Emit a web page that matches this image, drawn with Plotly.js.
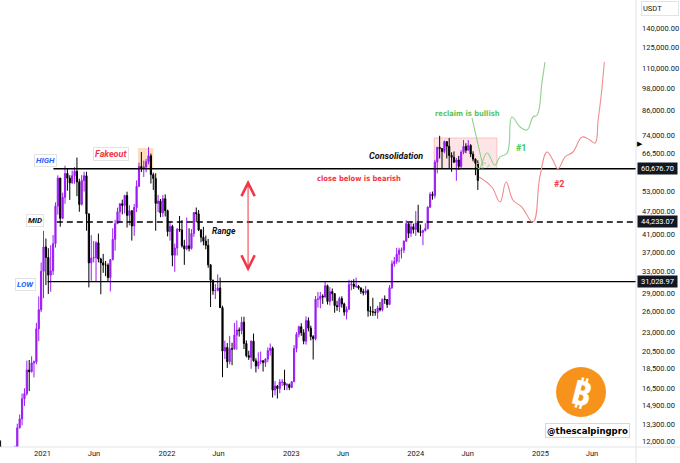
<!DOCTYPE html>
<html><head><meta charset="utf-8">
<script src="https://cdn.plot.ly/plotly-3.0.1.min.js"></script>
<style>html,body{margin:0;padding:0;background:#fff}#chart{width:680px;height:463px}</style>
</head><body><div id="chart"></div>
<script>
// ---------- DATA ----------
const firstWeek = '2020-08-31';   // weekly candles, one per Monday
const weekOpen = [11650,10280,10330,11080,10770,10670,11380,11500,13030,13740,15480,15960,18370,18170,19150,19270,23460,26280,
33000,38150,35830,32260,33100,38900,48580,57400,45200,51200,59000,57400,55800,58200,59800,56150,49100,56600,58200,46400,34700,35700,35800,39100,35500,34700,34240,34240,31800,35400,39900,43800,47000,49300,48800,51750,46000,47300,43200,48200,54700,61500,60900,61300,63300,65500,58600,57300,49400,50100,46700,50800,
47300,41800,43100,36300,37900,42400,42200,38400,37700,38400,37800,41300,46800,46400,42200,40400,39500,38500,34300,31300,29400,29450,29900,26600,20550,21000,19300,20850,20800,22600,23300,23200,24400,21500,20000,19800,21800,19400,18800,19300,19400,19200,19600,20600,20900,16300,16700,16450,17100,17100,16780,16840,
16550,17130,20870,22700,23750,22930,21800,24630,23550,22400,22100,27970,27970,28480,28330,30300,27600,29250,28900,26930,26750,28080,27200,25900,26340,30500,30590,30170,30230,29900,29280,29050,29400,26100,26000,25880,25840,26530,26250,27970,27920,27100,29950,34500,35000,36500,37380,37450,39460,43790,41370,42990,
42280,43930,41730,41600,42030,42580,48300,52140,51730,63100,68950,68400,67200,71300,69360,65660,64940,63100,63900,61540,66900,69300,67750,69650,66200,64250,62700];
const weekHigh = [12090,10800,11180,11090,10950,11490,11720,13350,14100,15970,16480,19420,19490,19920,19430,24300,28420,34780,
41950,40100,37850,38530,40950,49700,58350,57500,52640,61780,60630,58400,60080,61300,64850,57200,58450,59600,59600,46600,40900,39500,39500,41300,35750,36600,35100,34600,35400,42600,44800,48140,49400,50500,52000,52950,48850,47400,49230,56600,62900,67000,63700,64300,69000,66400,59300,59100,51950,50700,51900,52100,
47600,44500,43500,38900,42650,45850,44750,39800,45400,42600,42400,46900,48200,47500,42400,42980,40800,40000,34400,31400,30600,32400,31800,26900,21870,21550,22500,21600,24300,24650,23650,25200,25200,21900,20600,21900,22800,19700,20400,20500,19500,19700,21000,21500,21100,17200,16800,17400,17400,18400,17000,16950,
17200,21300,23000,23900,24250,23400,25250,25100,23900,22600,28500,29200,29200,28800,31000,30500,30050,29800,29000,27700,28400,28450,27400,26800,31400,31300,31500,31800,30400,30000,29750,30250,29700,26800,28200,26400,26900,27500,28050,28600,28000,30400,35200,35950,37950,37950,38000,39650,44700,43800,44300,43800,
47200,49000,43550,42250,43900,48550,52800,52980,64000,69000,73800,68400,71750,71300,72800,66900,67250,64700,65500,67700,71950,70600,71950,70200,67300,64500,63800];
const weekLow = [9875,9850,10200,10140,10370,10530,11220,11410,12980,13220,14840,15780,16200,18110,17580,19000,21810,25900,
28130,30420,28850,29240,32300,37990,46200,43000,45000,49270,53270,50430,55500,55500,51550,47000,48760,53000,42000,30000,31200,34800,31000,34800,28800,32700,32070,31100,29280,35200,37300,43700,43980,46300,46500,42800,43400,39600,40750,46900,54400,59500,57800,59400,62300,55600,53500,42000,46900,45500,45600,45700,
40600,39600,34000,32900,36250,41700,38000,34300,37400,37150,37550,40500,44200,41900,39200,38500,37600,33700,26700,28700,28000,29300,26560,17600,19600,18600,19000,18900,20750,20700,22400,22700,20800,19800,19500,18500,19300,18100,18470,19000,18200,18700,19250,20000,15600,15800,15500,16000,16700,16300,16300,16300,
16500,17100,20400,22300,22500,21400,21350,23100,21900,19550,21900,26600,26500,27200,28200,27100,26950,27700,25800,26100,25900,26600,25350,24800,26250,29500,29700,29900,29600,28850,28600,28700,25200,25350,25300,25350,24900,26000,26000,27200,26550,27000,29700,33900,34500,34800,35600,36800,39300,40200,40500,41300,
40750,41500,40600,38550,41800,42300,48100,50500,50900,59000,64500,60750,66500,64500,60650,59600,62800,56500,60200,60750,66100,66600,67600,65000,63400,58400,53500];
const weekClose = [10280,10330,11080,10770,10670,11380,11500,13030,13740,15480,15960,18370,18170,19150,19270,23460,26280,33000,
38150,35830,32260,33100,38900,48580,57400,45200,51200,59000,57400,55800,58200,59800,56150,49100,56600,58200,46400,34700,35700,35800,39100,35500,34700,34240,34240,31800,35400,39900,43800,47000,49300,48800,51750,46000,47300,43200,48200,54700,61500,60900,61300,63300,65500,58600,57300,49400,50100,46700,50800,47300,
41800,43100,36300,37900,42400,42200,38400,37700,38400,37800,41300,46800,46400,42200,40400,39500,38500,34300,31300,29400,29450,29900,26600,20550,21000,19300,20850,20800,22600,23300,23200,24400,21500,20000,19800,21800,19400,18800,19300,19400,19200,19600,20600,20900,16300,16700,16450,17100,17100,16780,16840,16550,
17130,20870,22700,23750,22930,21800,24630,23550,22400,22100,27970,27970,28480,28330,30300,27600,29250,28900,26930,26750,28080,27200,25900,26340,30500,30590,30170,30230,29900,29280,29050,29400,26100,26000,25880,25840,26530,26250,27970,27920,27100,29950,34500,35000,36500,37380,37450,39460,43790,41370,42990,42280,
43930,41730,41600,42030,42580,48300,52140,51730,63100,68950,68400,67200,71300,69360,65660,64940,63100,63900,61540,66900,69300,67750,69650,66200,64250,62700,56600];

const levelNames  = ['HIGH', 'MID', 'LOW'];
const levelValues = [60676.70, 44233.07, 31028.97];
const levelStart  = ['2021-02-02', '2021-02-12', '2021-01-16'];
const levelEnd    = '2026-06-01';

// hand-drawn scenario paths
const bullDates  = ['2024-07-01','2024-07-07','2024-07-28','2024-08-20','2024-09-04','2024-09-25','2024-10-09','2024-11-02','2024-11-22','2024-12-10','2024-12-22','2025-01-05','2025-01-14'];
const bullPrices = [60677, 61000, 66640, 62030, 65080, 66640, 82500, 77750, 76380, 82500, 83500, 101000, 114400];
const bearDates  = ['2024-07-04','2024-08-11','2024-09-04','2024-09-22','2024-10-12','2024-11-07','2024-12-10','2024-12-30','2025-01-20','2025-02-06','2025-02-21','2025-03-14','2025-04-06','2025-05-03','2025-05-26','2025-06-10','2025-06-19','2025-06-28','2025-07-07'];
const bearPrices = [57790, 54450, 49810, 56100, 50400, 48340, 44230, 57790, 67020, 63910, 60680, 65080, 67020, 73260, 71970, 70700, 81040, 94000, 114400];
const pointerDates  = ['2024-06-14', '2024-07-16'];
const pointerPrices = [82000, 61680];
const fakeoutBox  = {x: ['2021-10-08', '2021-11-22'], y: [60677, 68640]};
const consolBox   = {x: ['2024-02-24', '2024-08-26'], y: [60677, 72850]};
const rangeArrow  = {x: '2022-08-27', y: [56750, 32680]};

const yTickValues = [12000,13300,14900,16500,18500,20500,23000,26000,29000,33000,37000,41000,47000,53000,66500,74000,86000,98000,110000,125000,140000];
const xTickDates = ['2021-01-01','2021-06-01','2022-01-01','2022-06-01','2023-01-01','2023-06-01','2024-01-01','2024-06-01','2025-01-01','2025-06-01'];
const xTickText  = ['2021','Jun','2022','Jun','2023','Jun','2024','Jun','2025','Jun'];

// ---------- BUILD ----------
const weekDates = weekOpen.map((_, i) => {
  const d = new Date(Date.parse(firstWeek + 'T00:00:00Z') + i * 7 * 86400000);
  return d.toISOString().slice(0, 10);
});
const fmt = v => v.toLocaleString('en-US', {minimumFractionDigits: 2, maximumFractionDigits: 2});

const W = 680, H = 463, M = {l: 0, r: 44, t: 0, b: 16};
const PW = W - M.l - M.r, PH = H - M.t - M.b;
const px = x => x / PW, py = y => 1 - y / PH;

const PURPLE = '#9c1cf5', RED = '#f23645';
const FONT = 'Roboto, "Liberation Sans", Arial, sans-serif';

const traces = [{
  type: 'candlestick', x: weekDates, open: weekOpen, high: weekHigh, low: weekLow, close: weekClose,
  increasing: {line: {color: PURPLE, width: 1}, fillcolor: PURPLE},
  decreasing: {line: {color: '#000000', width: 1}, fillcolor: '#000000'},
  whiskerwidth: 0, hoverinfo: 'skip', showlegend: false
}];
levelValues.forEach((v, i) => traces.push({
  type: 'scatter', mode: 'lines', x: [levelStart[i], levelEnd], y: [v, v],
  line: {color: '#000', width: 1.3, dash: levelNames[i] === 'MID' ? '6px,4px' : 'solid'},
  hoverinfo: 'skip', showlegend: false
}));
traces.push({type: 'scatter', mode: 'lines', x: bullDates, y: bullPrices,
  line: {color: '#8fd18f', width: 1.1, shape: 'spline', smoothing: 1.2}, hoverinfo: 'skip', showlegend: false});
traces.push({type: 'scatter', mode: 'lines', x: bearDates, y: bearPrices,
  line: {color: '#f08c8c', width: 1.1, shape: 'spline', smoothing: 1.2}, hoverinfo: 'skip', showlegend: false});
traces.push({type: 'scatter', mode: 'lines', x: pointerDates, y: pointerPrices,
  line: {color: '#7fcf7f', width: 1}, hoverinfo: 'skip', showlegend: false});

const ann = [];
const lab = (text, x, y, color, size, extra) => ann.push(Object.assign({
  text, xref: 'paper', yref: 'paper', x: px(x), y: py(y), showarrow: false,
  font: {family: FONT, size, color}, xanchor: 'center', yanchor: 'middle'
}, extra || {}));
const tag = {bordercolor: '#e3e3e3', borderwidth: 1, borderpad: 1, bgcolor: 'rgba(255,255,255,0.9)'};
const NARROW = '"Liberation Sans Narrow", "DejaVu Sans Condensed", sans-serif';
lab('<b><i>HIGH</i></b>', 45, 160, '#2962ff', 8, tag);
lab('<b><i>MID</i></b>', 35, 220, '#111', 8, tag);
lab('<b><i>LOW</i></b>', 25, 284, '#2962ff', 8, tag);
lab('<b><i>Fakeout</i></b>', 111, 154, RED, 9, tag);
lab('<b><i>Range</i></b>', 224, 231, '#111', 8.5);
lab('<b><i>Consolidation</i></b>', 396, 156, '#111', 9);
lab('<b>close below is bearish</b>', 359, 178, RED, 7.5, {font: {family: NARROW, size: 7.5, color: RED}});
lab('<b>reclaim is bullish</b>', 468, 113, '#5cc45c', 7.5, {font: {family: NARROW, size: 7.5, color: '#5cc45c'}});
lab('<b>#1</b>', 521, 148, '#3dc93d', 9);
lab('<b>#2</b>', 559, 184, RED, 9);
lab('<b>@thescalpingpro</b>', 587, 430, '#000', 9.5, {font: {family: '"DejaVu Sans Condensed", "DejaVu Sans", sans-serif', size: 9.5, color: '#000'}, bordercolor: '#d8d8d8', borderwidth: 1, borderpad: 1});
lab('<b>₿</b>', 581, 392, '#ffffff', 34, {textangle: 14, font: {family: '"Noto Sans", "DejaVu Sans", sans-serif', size: 34, color: '#fff'}});
// USDT box
ann.push({text: 'USDT', xref: 'paper', yref: 'paper', x: px(641), y: py(9), xanchor: 'left', yanchor: 'middle',
  showarrow: false, font: {family: FONT, size: 7.5, color: '#131722'}, bordercolor: '#e0e3eb', borderwidth: 1,
  width: 34, height: 11, align: 'left', bgcolor: '#fff'});
// axis price boxes
levelValues.forEach(v => ann.push({text: fmt(v), xref: 'paper', yref: 'y', x: 1, y: Math.log10(v),
  xanchor: 'left', yanchor: 'middle', xshift: 1, showarrow: false, bgcolor: '#131722',
  font: {family: FONT, size: 7.5, color: '#fff'}, borderpad: 1, width: 37}));
// current price marker
ann.push({text: '▶', xref: 'paper', yref: 'y', x: 1, y: Math.log10(70300), xanchor: 'left', yanchor: 'middle',
  xshift: -1, showarrow: false, font: {size: 7, color: '#000'}});
// range double arrow
ann.push({text: '', xref: 'x', yref: 'y', x: rangeArrow.x, y: Math.log10(rangeArrow.y[0]),
  axref: 'x', ayref: 'y', ax: rangeArrow.x, ay: Math.log10(rangeArrow.y[1]), showarrow: true,
  arrowside: 'end+start', arrowhead: 5, startarrowhead: 5, arrowsize: 2.6, startarrowsize: 2.6,
  arrowwidth: 1, arrowcolor: RED});

const shapes = [
  {type: 'rect', xref: 'x', yref: 'y', x0: fakeoutBox.x[0], x1: fakeoutBox.x[1], y0: fakeoutBox.y[0], y1: fakeoutBox.y[1],
   fillcolor: 'rgba(245,160,70,0.35)', line: {width: 0}, layer: 'below'},
  {type: 'rect', xref: 'x', yref: 'y', x0: consolBox.x[0], x1: consolBox.x[1], y0: consolBox.y[0], y1: consolBox.y[1],
   fillcolor: 'rgba(242,54,69,0.13)', line: {color: 'rgba(242,54,69,0.25)', width: 1}, layer: 'below'},
  {type: 'circle', xref: 'x', yref: 'y', xsizemode: 'pixel', ysizemode: 'pixel', xanchor: '2024-07-14', yanchor: 61000,
   x0: -7, x1: 7, y0: -5, y1: 5, line: {color: '#8fd18f', width: 1, dash: 'dot'}},
  {type: 'circle', xref: 'paper', yref: 'paper', xsizemode: 'pixel', ysizemode: 'pixel', xanchor: px(581), yanchor: py(392),
   x0: -25, x1: 25, y0: -25, y1: 25, fillcolor: '#f7931a', line: {width: 0}},
  {type: 'line', xref: 'paper', yref: 'paper', x0: 1, x1: 1, y0: -M.b / PH, y1: 1, line: {color: '#e0e3eb', width: 1}},
  {type: 'line', xref: 'paper', yref: 'paper', x0: 0, x1: W / PW, y0: 0, y1: 0, line: {color: '#e0e3eb', width: 1}}
];

const layout = {
  width: W, height: H, margin: M, paper_bgcolor: '#fff', plot_bgcolor: '#fff', showlegend: false,
  font: {family: FONT, color: '#131722'},
  xaxis: {type: 'date', range: ['2020-08-29 07:00', '2025-10-08'], showgrid: false, zeroline: false,
    tickvals: xTickDates, ticktext: xTickText, tickfont: {size: 7.5, color: '#131722'}, ticks: '',
    showline: false, rangeslider: {visible: false}, fixedrange: true},
  yaxis: {type: 'log', side: 'right', range: [4.0655, 5.2182], showgrid: false, zeroline: false,
    tickvals: yTickValues, ticktext: yTickValues.map(fmt), tickfont: {size: 7.5, color: '#131722'}, ticks: '',
    ticklabelstandoff: 5, showline: false, fixedrange: true},
  shapes, annotations: ann
};
Plotly.newPlot('chart', traces, layout, {staticPlot: true, displayModeBar: false});
</script></body></html>
